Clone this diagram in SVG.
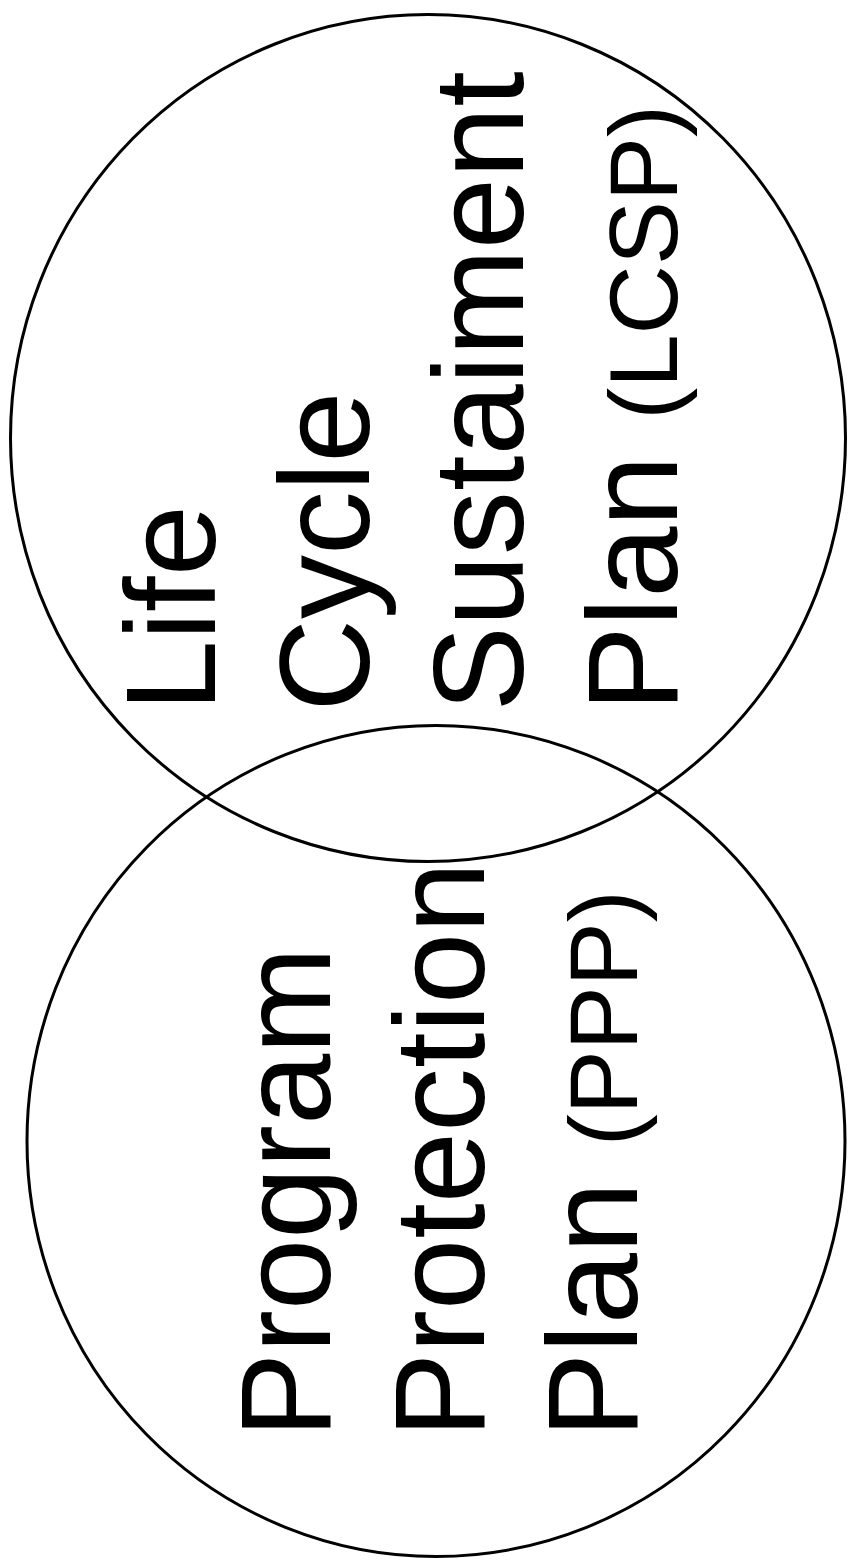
<svg xmlns="http://www.w3.org/2000/svg" width="848" height="1566" viewBox="0 0 848 1566">
  <style>
    .ring { fill: none; stroke: #000; stroke-width: 3; }
    .lbl { font-family: "Liberation Sans", Arial, sans-serif; font-size: 128px; fill: #000; }
    .small { font-size: 96px; }
  </style>
  <rect x="0" y="0" width="848" height="1566" fill="#fff"/>
  <g id="lcsp">
    <ellipse class="ring" cx="428" cy="438" rx="417.5" ry="423.5"/>
    <text class="lbl" transform="translate(215.3,711.5) rotate(-90)">Life</text>
    <text class="lbl" transform="translate(368.9,711.5) rotate(-90)">Cycle</text>
    <text class="lbl" transform="translate(522.5,711.5) rotate(-90)">Sustaiment</text>
    <text class="lbl" transform="translate(676.6,711.5) rotate(-90)">Plan <tspan class="small">(LCSP)</tspan></text>
  </g>
  <g id="ppp">
    <ellipse class="ring" cx="436" cy="1141" rx="409" ry="415.5"/>
    <text class="lbl" transform="translate(330,1438) rotate(-90)">Program</text>
    <text class="lbl" transform="translate(483.6,1438) rotate(-90)">Protection</text>
    <text class="lbl" transform="translate(637,1438) rotate(-90)">Plan <tspan class="small">(PPP)</tspan></text>
  </g>
  <g id="connectors"></g>
</svg>
